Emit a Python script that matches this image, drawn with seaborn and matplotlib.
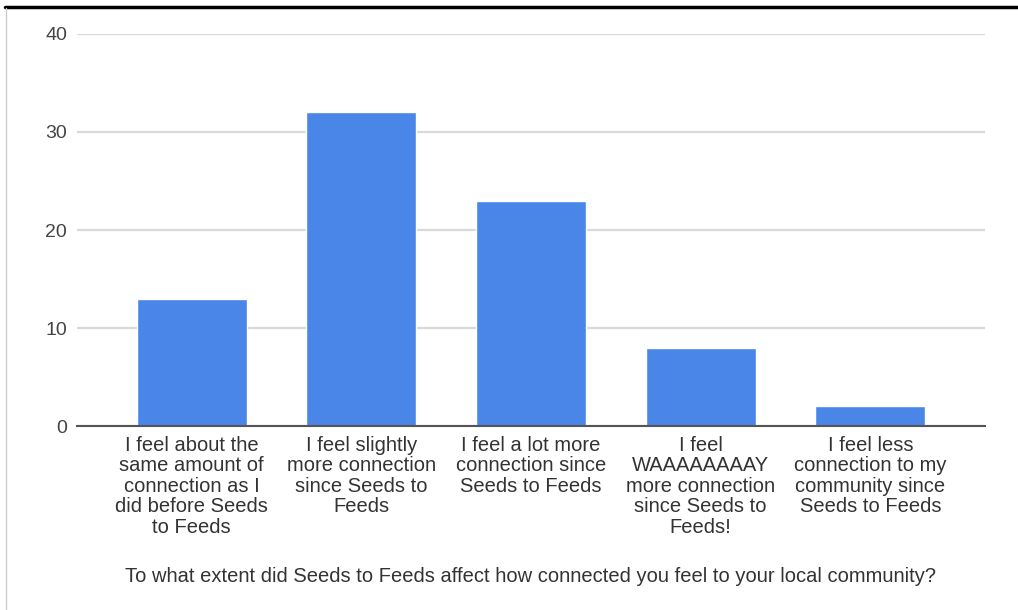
import matplotlib
matplotlib.use("Agg")
import matplotlib.pyplot as plt
import seaborn as sns
import pandas as pd
from matplotlib.lines import Line2D

# data
categories = [
    "I feel about the\nsame amount of\nconnection as I\ndid before Seeds\nto Feeds",
    "I feel slightly\nmore connection\nsince Seeds to\nFeeds",
    "I feel a lot more\nconnection since\nSeeds to Feeds",
    "I feel\nWAAAAAAAAY\nmore connection\nsince Seeds to\nFeeds!",
    "I feel less\nconnection to my\ncommunity since\nSeeds to Feeds",
]
counts = [13, 32, 23, 8, 2]
y_ticks = [0, 10, 20, 30, 40]
x_title = "To what extent did Seeds to Feeds affect how connected you feel to your local community?"

df = pd.DataFrame({"answer": categories, "count": counts})

sns.set_theme(style="white")
plt.rcParams["font.family"] = ["Liberation Sans", "DejaVu Sans"]

fig = plt.figure(figsize=(10.18, 6.10), dpi=100)
ax = fig.add_axes([0.0756, 0.3016, 0.892, 0.6427])

sns.barplot(data=df, x="answer", y="count", color="#4a86e8", saturation=1,
            width=0.647, ax=ax, zorder=3)

ax.set_xlim(-0.676, 4.676)
ax.set_ylim(0, 40)
ax.set_yticks(y_ticks)
ax.yaxis.grid(True, color="#d9d9d9", linewidth=1.6, zorder=0)
ax.set_axisbelow(True)
for s in ["top", "right", "left"]:
    ax.spines[s].set_visible(False)
ax.spines["bottom"].set_color("#555555")
ax.spines["bottom"].set_linewidth(1.5)
ax.spines["bottom"].set_zorder(4)

ax.tick_params(axis="y", length=0, pad=7, labelsize=14, labelcolor="#444444")
ax.tick_params(axis="x", length=0, pad=7, labelsize=14.5, labelcolor="#333333")
for lbl in ax.get_xticklabels():
    lbl.set_linespacing(1.1)
    lbl.set_verticalalignment("top")

ax.set_ylabel("")
ax.set_xlabel(x_title, fontsize=14.5, color="#333333")
ax.xaxis.label.set_verticalalignment("center")
ax.xaxis.set_label_coords(0.5, -0.385)

# frame lines of the screenshot
fig.add_artist(Line2D([5 / 1018, 1], [1 - 7 / 610, 1 - 7 / 610], color="black", linewidth=2.5))
fig.add_artist(Line2D([6 / 1018, 6 / 1018], [0, 1 - 8 / 610], color="#cccccc", linewidth=1))

fig.savefig("out.png", dpi=100, facecolor="white")
